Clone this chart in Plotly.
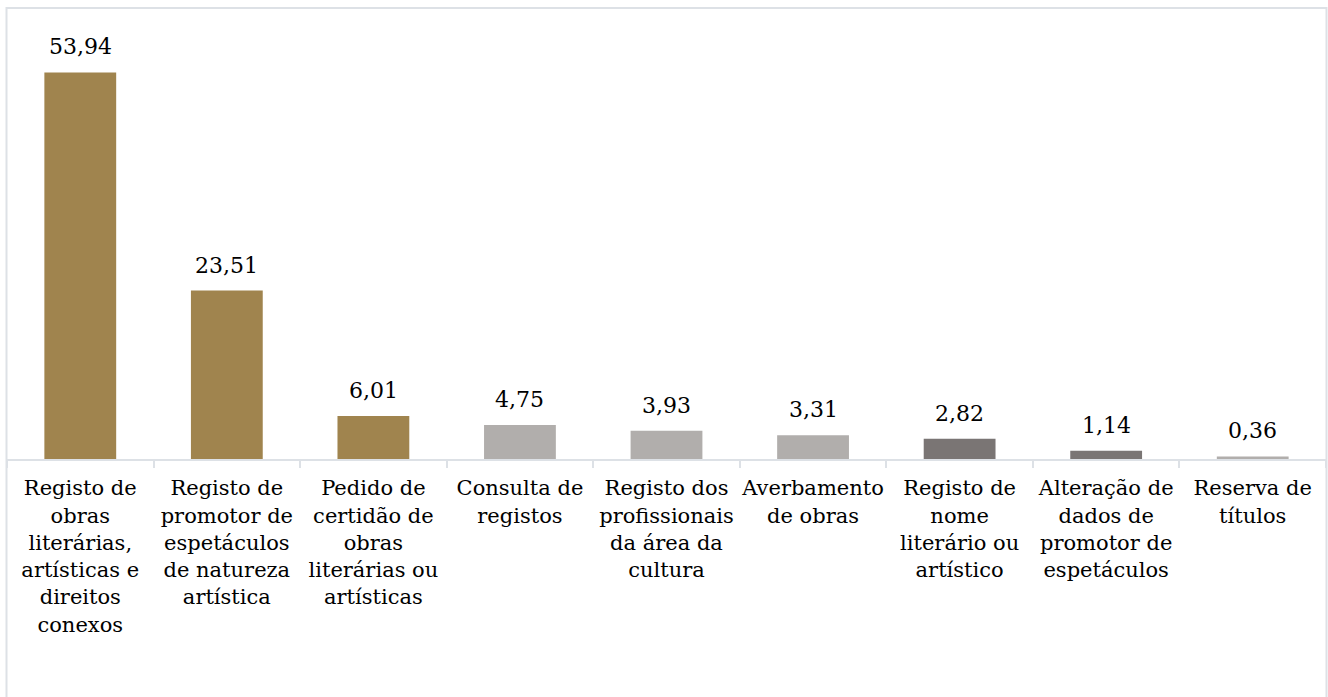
import plotly.graph_objects as go

# Service categories and their share (%)
categories = [
    "Registo de<br>obras<br>literárias,<br>artísticas e<br>direitos<br>conexos",
    "Registo de<br>promotor de<br>espetáculos<br>de natureza<br>artística",
    "Pedido de<br>certidão de<br>obras<br>literárias ou<br>artísticas",
    "Consulta de<br>registos",
    "Registo dos<br>profissionais<br>da área da<br>cultura",
    "Averbamento<br>de obras",
    "Registo de<br>nome<br>literário ou<br>artístico",
    "Alteração de<br>dados de<br>promotor de<br>espetáculos",
    "Reserva de<br>títulos",
]
values = [53.94, 23.51, 6.01, 4.75, 3.93, 3.31, 2.82, 1.14, 0.36]
labels = ["53,94", "23,51", "6,01", "4,75", "3,93", "3,31", "2,82", "1,14", "0,36"]

GOLD = "#a0844e"
LIGHT = "#b1aeac"
DARK = "#7a7574"
colors = [GOLD, GOLD, GOLD, LIGHT, LIGHT, LIGHT, DARK, DARK, LIGHT]

FONT = "DejaVu Serif"
GRID = "#dde1e6"

fig = go.Figure(
    go.Bar(
        x=categories,
        y=values,
        marker=dict(color=colors, line=dict(width=0)),
        width=0.49,
        cliponaxis=False,
    )
)

# value labels above each bar
for cat, v, lab in zip(categories, values, labels):
    fig.add_annotation(
        x=cat, y=v, text=lab, showarrow=False,
        yanchor="bottom", yshift=11,
        font=dict(family=FONT, size=22, color="#000000"),
    )

fig.update_layout(
    width=1328,
    height=697,
    margin=dict(l=7, r=2, t=29, b=238, autoexpand=False),
    paper_bgcolor="white",
    plot_bgcolor="white",
    showlegend=False,
    font=dict(family=FONT, size=21, color="#000000"),
    xaxis=dict(
        type="category",
        automargin=False,
        tickangle=0,
        showline=True,
        linecolor=GRID,
        linewidth=2,
        ticks="outside",
        tickson="boundaries",
        ticklen=7,
        tickcolor=GRID,
        tickwidth=2,
        ticklabelstandoff=9,
        showgrid=False,
        zeroline=False,
        tickfont=dict(family=FONT, size=21, color="#000000"),
    ),
    yaxis=dict(
        range=[0, 60],
        visible=False,
        automargin=False,
        showgrid=False,
        zeroline=False,
    ),
    shapes=[
        dict(
            type="rect",
            xref="paper", yref="paper",
            x0=-0.5 / 1319, x1=1 + 0.5 / 1319,
            y0=-1.0, y1=1 + 21 / 430,
            line=dict(color=GRID, width=2),
            fillcolor="rgba(0,0,0,0)",
            layer="below",
        ),
    ],
)

fig.write_html("out.html")
